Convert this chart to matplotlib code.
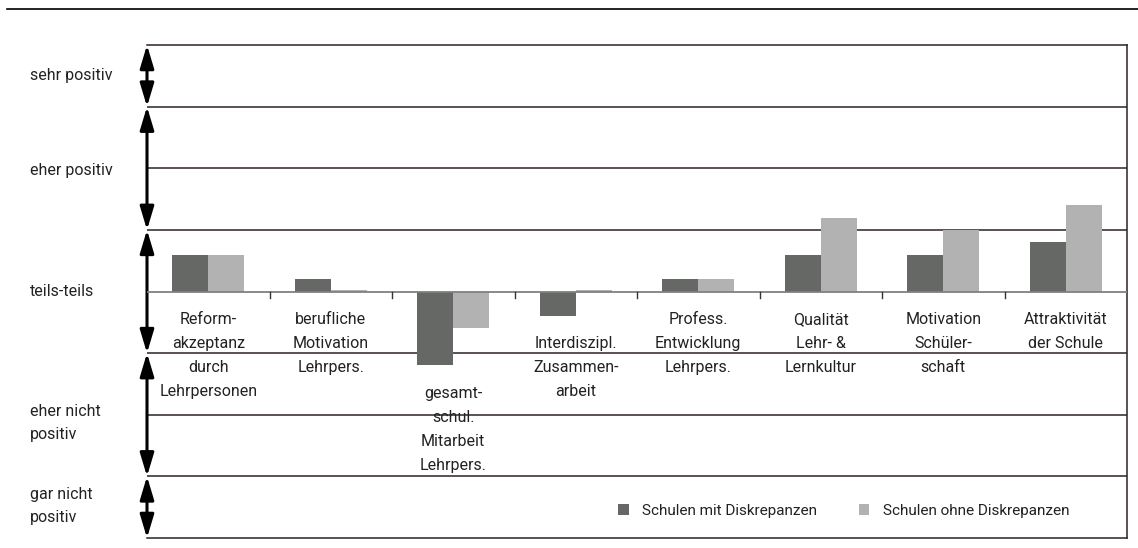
import matplotlib
matplotlib.use('Agg')
import matplotlib.pyplot as plt
from matplotlib.lines import Line2D
import numpy as np

plt.rcParams['font.family'] = ['Roboto', 'DejaVu Sans']

# data: scale -2 (gar nicht positiv) .. 2 (sehr positiv), 0 = teils-teils
categories = ['Reform-\nakzeptanz\ndurch\nLehrpersonen',
              'berufliche\nMotivation\nLehrpers.',
              'gesamt-\nschul.\nMitarbeit\nLehrpers.',
              'Interdiszipl.\nZusammen-\narbeit',
              'Profess.\nEntwicklung\nLehrpers.',
              'Qualität\nLehr- &\nLernkultur',
              'Motivation\nSchüler-\nschaft',
              'Attraktivität\nder Schule']
mit_diskrepanz = [0.30, 0.10, -0.60, -0.20, 0.10, 0.30, 0.30, 0.40]
ohne_diskrepanz = [0.30, 0.01, -0.30, 0.015, 0.10, 0.60, 0.50, 0.70]
series_names = ['Schulen mit Diskrepanzen', 'Schulen ohne Diskrepanzen']
scale_labels = ['sehr positiv', 'eher positiv', 'teils-teils',
                'eher nicht\npositiv', 'gar nicht\npositiv']
scale_pos = [1.75, 0.98, 0.0, -1.07, -1.74]
scale_spans = [(2.0, 1.5), (1.5, 0.5), (0.5, -0.5), (-0.5, -1.5), (-1.5, -2.0)]
# top of the first label line for each category
label_top = [-0.17, -0.17, -0.77, -0.36, -0.17, -0.17, -0.17, -0.17]

dark = '#666866'
light = '#b2b2b2'
txt = '#222222'

fig = plt.figure(figsize=(11.38, 5.48), dpi=100)
ax = fig.add_axes([147/1138, 10/548, 980/1138, 493/548])

x = np.arange(len(categories))
w = 0.295
ax.bar(x - w/2, mit_diskrepanz, w, color=dark, label=series_names[0], zorder=3)
ax.bar(x + w/2, ohne_diskrepanz, w, color=light, label=series_names[1], zorder=3)

ax.set_xlim(-0.5, len(categories) - 0.5)
ax.set_ylim(-2, 2)
for y in np.arange(-1.5, 2.0, 0.5):
    if y == 0:
        continue
    ax.axhline(y, color='#2e2226', lw=1.1, zorder=1)
ax.axhline(0, color='#808080', lw=1.3, zorder=4)
for b in np.arange(0.5, len(categories) - 0.5, 1):
    ax.plot([b, b], [0, -0.05], color='#333333', lw=1, zorder=4)

for s in ['top', 'bottom', 'right']:
    ax.spines[s].set_color('#2e2226')
    ax.spines[s].set_linewidth(1.1)
ax.spines['left'].set_visible(False)
ax.set_xticks([])
ax.set_yticks([])

for i, lab in enumerate(categories):
    ax.text(i, label_top[i], lab, ha='center', va='top', fontsize=11.5,
            color=txt, linespacing=1.75, zorder=5)

tr = ax.get_yaxis_transform()
for lab, yp in zip(scale_labels, scale_pos):
    ax.text(-117/980, yp, lab, transform=tr, ha='left', va='center',
            fontsize=11.5, color=txt, linespacing=1.65)
for y0, y1 in scale_spans:
    ax.annotate('', xy=(0, y1), xytext=(0, y0), xycoords=tr, textcoords=tr,
                arrowprops=dict(arrowstyle='<|-|>,head_length=1.4,head_width=0.42',
                                color='black', lw=2.2, shrinkA=0, shrinkB=0),
                annotation_clip=False)

ax.legend(loc='center', bbox_to_anchor=(0.711, 0.055), bbox_transform=ax.transAxes,
          ncol=2, frameon=False, fontsize=11, handlelength=0.7, handleheight=0.7,
          handletextpad=0.9, columnspacing=2.7, labelcolor=txt)

fig.add_artist(Line2D([7/1138, 1.0], [1 - 9/548, 1 - 9/548], color='black', lw=1.2))

fig.savefig('out.png', dpi=100)
